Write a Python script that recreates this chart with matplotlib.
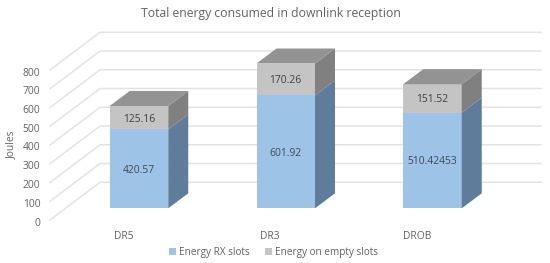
import matplotlib
matplotlib.use("Agg")
import matplotlib.pyplot as plt
from matplotlib.patches import Polygon, Patch
from matplotlib.transforms import ScaledTranslation

categories = ["DR5", "DR3", "DROB"]
rx_slots = [420.57, 601.92, 510.42453]
empty_slots = [125.16, 170.26, 151.52]
rx_labels = ["420.57", "601.92", "510.42453"]
empty_labels = ["125.16", "170.26", "151.52"]
y_ticks = [0, 100, 200, 300, 400, 500, 600, 700, 800]

W, H = 550, 263
PX_CAT = 146.75      # pixels between categories
PX_J = 150 / 800     # pixels per joule
px_x = lambda p: p / PX_CAT
px_y = lambda p: p / PX_J

TXT = "#636363"
plt.rcParams["font.family"] = ["Open Sans", "DejaVu Sans"]
fig = plt.figure(figsize=(W / 100, H / 100), dpi=100, facecolor="white")
left, right, bottom, top = 50, 491, 220, 70
ax = fig.add_axes([left / W, 1 - bottom / H, (right - left) / W, (bottom - top) / H])
ax.set_xlim((left - 139) / PX_CAT, (right - 139) / PX_CAT)
ax.set_ylim(0, 800)
ax.patch.set_visible(False)
for s in ax.spines.values():
    s.set_visible(False)

# floor/wall gridlines
gdx, gdy = px_x(50), px_y(37.7)
x0 = ax.get_xlim()[0]
wall_end = x0 + px_x(491)
for t in y_ticks:
    ax.plot([x0, x0 + gdx, wall_end], [t, t + gdy, t + gdy], color="#E3E3E3",
            lw=1.1, clip_on=False, zorder=1, solid_joinstyle="miter")

# bars
width = px_x(58.5)
base = px_y(11.7)
ddx, ddy = px_x(20), px_y(15)
bars_rx = ax.bar(range(3), rx_slots, width, bottom=base, color="#9DC3E6", zorder=3, clip_on=False)
bottoms2 = [base + v for v in rx_slots]
bars_em = ax.bar(range(3), empty_slots, width, bottom=bottoms2, color="#C4C4C4", zorder=3, clip_on=False)

for i in range(3):
    xr = i + width / 2
    xl = i - width / 2
    y1 = bottoms2[i]
    y2 = y1 + empty_slots[i]
    ax.add_patch(Polygon([(xr, base), (xr + ddx, base + ddy), (xr + ddx, y1 + ddy), (xr, y1)],
                         fc="#5F7C9B", ec="none", zorder=3, clip_on=False))
    ax.add_patch(Polygon([(xr, y1), (xr + ddx, y1 + ddy), (xr + ddx, y2 + ddy), (xr, y2)],
                         fc="#808080", ec="none", zorder=3, clip_on=False))
    ax.add_patch(Polygon([(xl, y2), (xl + ddx, y2 + ddy), (xr + ddx, y2 + ddy), (xr, y2)],
                         fc="#939393", ec="none", zorder=3, clip_on=False))
    ax.text(i, base + rx_slots[i] / 2, rx_labels[i], ha="center", va="center_baseline",
            fontsize=7.4, color="#404A55", zorder=4)
    ax.text(i, y1 + empty_slots[i] / 2, empty_labels[i], ha="center", va="center_baseline",
            fontsize=7.4, color="#404040", zorder=4)

ax.set_yticks(y_ticks)
ax.tick_params(axis="y", length=0, pad=7, labelsize=7.4, labelcolor=TXT)
for lab in ax.get_yticklabels():
    lab.set_transform(lab.get_transform() + ScaledTranslation(0, -1.5 / 100, fig.dpi_scale_trans))
ax.set_xticks([i - px_x(15.5) for i in range(3)])
ax.set_xticklabels(categories)
ax.tick_params(axis="x", length=0, pad=8, labelsize=7.4, labelcolor=TXT)
fig.text(11 / W, 1 - 145 / H, "Joules", rotation=90, ha="center", va="center", fontsize=7.4, color=TXT)
fig.text(271 / W, 1 - 13 / H, "Total energy consumed in downlink reception",
         ha="center", va="center", fontsize=8.8, color=TXT)

handles = [Patch(fc="#9DC3E6", label="Energy RX slots"), Patch(fc="#C4C4C4", label="Energy on empty slots")]
fig.legend(handles=handles, loc="center", bbox_to_anchor=(273.5 / W, 1 - 252.5 / H), ncol=2, frameon=False,
           fontsize=7.2, labelcolor=TXT, handlelength=0.7, handleheight=0.7, handletextpad=0.35,
           columnspacing=1.5, borderpad=0, borderaxespad=0)
fig.savefig("out.png", dpi=100)
